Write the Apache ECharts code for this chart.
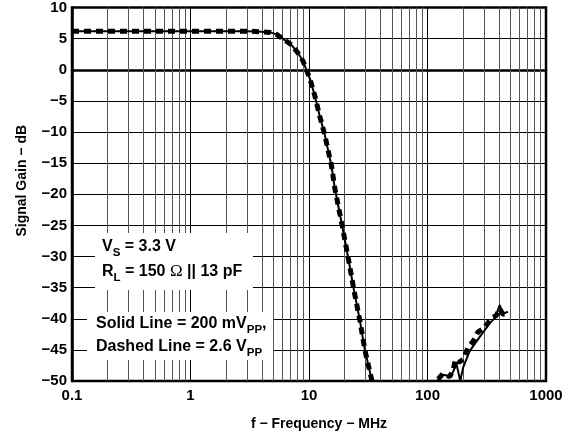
<!DOCTYPE html>
<html>
<head>
<meta charset="utf-8">
<script src="https://cdn.jsdelivr.net/npm/echarts@6/dist/echarts.min.js"></script>
<style>
  html, body { margin: 0; padding: 0; background: #fff; }
  #chart { width: 571px; height: 436px; }
</style>
</head>
<body>
<div id="chart"></div>
<script>
// Frequency response: signal gain (dB) vs frequency (MHz)
const solidFreq = [0.1, 0.2, 0.5, 1, 2, 3, 4, 4.7, 5.3, 6.0, 7.1, 8, 8.9, 10.2, 11.2, 12.3, 13.6, 15.5, 16.5, 18.8, 21.8, 24, 27, 29.6, 34,
                   60,
                   120, 123, 135, 154, 165, 175, 189, 200, 227, 276, 336, 370, 407, 434, 460, 479];
const solidGain = [6.2, 6.2, 6.2, 6.2, 6.2, 6.2, 6.1, 6.0, 5.7, 5.0, 4.0, 2.8, 1.4, -1.5, -4.2, -7.4, -10.5, -15.5, -19, -24.5, -31, -35.5, -40.5, -45, -50,
                   null,
                   -50, -49.7, -49.0, -49.2, -48.5, -47.1, -50, -47.8, -45.2, -42.9, -40.7, -39.9, -37.8, -39.2, -39.0, -38.9];

const dashedFreq = [0.1, 0.2, 0.5, 1, 2, 3, 4, 4.7, 5.3, 6.0, 7.1, 8, 8.9, 10.2, 11.2, 12.3, 13.6, 15.5, 16.5, 18.8, 21.8, 24, 27, 29.6, 34,
                    60,
                    123, 135, 154, 165, 172, 185, 200, 219, 245, 267, 300, 347, 380, 407, 434, 464, 479];
const dashedGain = [6.2, 6.2, 6.2, 6.2, 6.2, 6.2, 6.1, 6.0, 5.7, 5.0, 4.0, 2.8, 1.4, -1.5, -4.2, -7.4, -10.5, -15.5, -19, -24.5, -31, -35.5, -40.5, -45, -50,
                    null,
                    -49.7, -48.8, -49.3, -48.2, -46.5, -47, -46.5, -44.7, -43.5, -42.1, -41.5, -39.9, -39.5, -38.4, -39.3, -39.2, -39.5];

// Intermediate log-decade grid positions (2..9 of each decade)
const minorFreqs = [];
[0.1, 1, 10, 100].forEach(d => { for (let k = 2; k <= 9; k++) minorFreqs.push(+(d * k).toPrecision(3)); });

const yTicks = { min: -50, max: 10, step: 5 };

const pairs = (xs, ys) => xs.map((x, i) => [x, ys[i] === null ? '-' : ys[i]]);
const FONT = 'Arial, "Liberation Sans", Helvetica, sans-serif';
const SERIF = '"Times New Roman", "Liberation Serif", serif';

const chart = echarts.init(document.getElementById('chart'), null, { renderer: 'canvas' });

const noteText = (x, y, text, lh) => ({
  type: 'text', x: x, y: y, z: 101,
  style: {
    text: text,
    font: 'bold 16px ' + FONT, fill: '#000', lineHeight: lh,
    rich: {
      m: { fontFamily: FONT, fontWeight: 'bold', fontSize: 16, lineHeight: lh, fill: '#000' },
      o: { fontFamily: SERIF, fontWeight: 'normal', fontSize: 17, lineHeight: lh, fill: '#000' },
      s: { fontFamily: FONT, fontWeight: 'bold', fontSize: 11.5, lineHeight: lh, fill: '#000', padding: [12, 0, 0, 0] }
    }
  }
});

chart.setOption({
  animation: false,
  backgroundColor: '#fff',
  grid: {
    left: 72, right: 25, top: 7.5, bottom: 52,
    show: true, borderColor: '#000', borderWidth: 2.5, backgroundColor: 'transparent'
  },
  xAxis: {
    type: 'log', logBase: 10, min: 0.1, max: 1000,
    name: 'f \u2212 Frequency \u2212 MHz',
    nameLocation: 'middle', nameGap: 36,
    nameTextStyle: { fontFamily: FONT, fontWeight: 'bold', fontSize: 14, color: '#000', padding: [0, 0, 0, 20] },
    axisLine: { show: true, lineStyle: { color: '#000', width: 2.5 } },
    axisTick: { show: false },
    axisLabel: {
      margin: 7, color: '#000', fontFamily: FONT, fontWeight: 'bold', fontSize: 15,
      formatter: v => String(+v.toPrecision(3))
    },
    splitLine: { show: true, lineStyle: { color: '#000', width: 1 } }
  },
  yAxis: {
    type: 'value', min: yTicks.min, max: yTicks.max, interval: yTicks.step,
    name: 'Signal Gain \u2212 dB',
    nameLocation: 'middle', nameGap: 43, nameRotate: 90,
    nameTextStyle: { fontFamily: FONT, fontWeight: 'bold', fontSize: 14, color: '#000', padding: [0, 0, 0, 27] },
    axisLine: { show: true, lineStyle: { color: '#000', width: 2.5 } },
    axisTick: { show: false },
    axisLabel: {
      margin: 5, color: '#000', fontFamily: FONT, fontWeight: 'bold', fontSize: 15,
      formatter: v => String(v).replace('-', '\u2212')
    },
    splitLine: { show: true, lineStyle: { color: '#000', width: 1 } }
  },
  series: [
    {
      name: 'minor grid', type: 'line', data: [], z: 1, silent: true,
      markLine: {
        silent: true, symbol: ['none', 'none'], animation: false,
        label: { show: false },
        lineStyle: { type: 'solid', color: '#555', width: 1 },
        data: minorFreqs.map(f => ({ xAxis: f }))
      }
    },
    {
      name: 'Solid Line = 200 mVPP', type: 'line', z: 5,
      data: pairs(solidFreq, solidGain),
      showSymbol: false, connectNulls: false, smooth: false,
      lineStyle: { color: '#000', width: 2 }
    },
    {
      name: 'Dashed Line = 2.6 VPP', type: 'line', z: 6,
      data: pairs(dashedFreq, dashedGain),
      showSymbol: false, connectNulls: false, smooth: false,
      lineStyle: { color: '#000', width: 5, type: [7, 5], cap: 'butt' }
    }
  ],
  graphic: {
    elements: [
      { type: 'rect', z: 100, shape: { x: 95, y: 233, width: 158, height: 57 }, style: { fill: '#fff', stroke: null } },
      noteText(102, 234, '{m|V}{s|S}{m| = 3.3 V}\n{m|R}{s|L}{m| = 150 }{o|\u03A9}{m| || 13 pF}', 25),
      { type: 'rect', z: 100, shape: { x: 87, y: 312, width: 186, height: 48 }, style: { fill: '#fff', stroke: null } },
      noteText(96, 312, '{m|Solid Line = 200 mV}{s|PP}{m|,}\n{m|Dashed Line = 2.6 V}{s|PP}', 23)
    ]
  }
});
</script>
</body>
</html>
